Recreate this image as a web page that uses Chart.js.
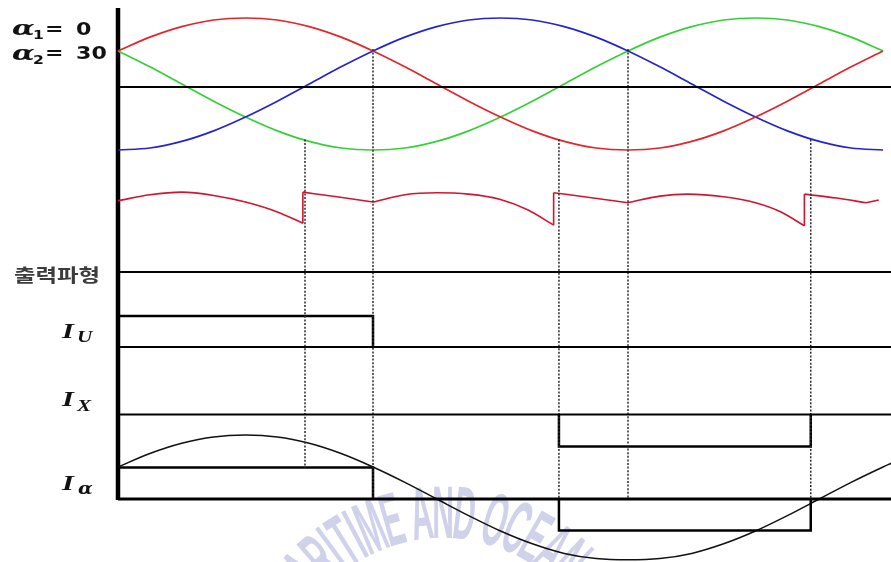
<!DOCTYPE html>
<html>
<head>
<meta charset="utf-8">
<title>α1 = 0, α2 = 30 파형</title>
<script src="https://cdn.jsdelivr.net/npm/chart.js@4.4.1/dist/chart.umd.min.js"></script>
<style>
  html, body { margin: 0; padding: 0; background: #fff; }
  #wrap { width: 891px; height: 562px; }
</style>
</head>
<body>
<div id="wrap"><canvas id="wave" width="891" height="562"></canvas></div>
<script>
// phase voltages, sampled every 15 deg (per unit of peak)
const phaseDeg = [0, 15, 30, 45, 60, 75, 90, 105, 120, 135, 150, 165, 180, 195, 210, 225, 240, 255, 270, 285, 300, 315, 330, 345, 360];
const phaseU = [0.5, 0.71, 0.87, 0.97, 1, 0.97, 0.87, 0.71, 0.5, 0.26, 0, -0.26, -0.5, -0.71, -0.87, -0.97, -1, -0.97, -0.87, -0.71, -0.5, -0.26, 0, 0.26, 0.5];
const phaseV = [-1, -0.97, -0.87, -0.71, -0.5, -0.26, 0, 0.26, 0.5, 0.71, 0.87, 0.97, 1, 0.97, 0.87, 0.71, 0.5, 0.26, 0, -0.26, -0.5, -0.71, -0.87, -0.97, -1];
const phaseW = [0.5, 0.26, 0, -0.26, -0.5, -0.71, -0.87, -0.97, -1, -0.97, -0.87, -0.71, -0.5, -0.26, 0, 0.26, 0.5, 0.71, 0.87, 0.97, 1, 0.97, 0.87, 0.71, 0.5];

// output voltage (출력파형); repeated angle = vertical jump
const outDeg = [0, 15, 30, 45, 60, 75, 87, 87, 103, 120, 135, 150, 165, 180, 193, 205, 205, 222, 240, 255, 268, 285, 300, 312, 323, 323, 338, 352, 358];
const outVal = [1.08, 1.17, 1.21, 1.16, 1.06, 0.91, 0.74, 1.21, 1.14, 1.06, 1.17, 1.2, 1.18, 1.1, 0.94, 0.71, 1.2, 1.13, 1.05, 1.15, 1.18, 1.14, 1.05, 0.91, 0.7, 1.18, 1.12, 1.05, 1.09];
const outCusps = [120, 240, 352];

// currents (per unit of Id)
const iUDeg = [0, 120, 120];
const iUVal = [1, 1, 0];
const iXDeg = [207.5, 207.5, 326, 326];
const iXVal = [0, -1, -1, 0];
const iaPosDeg = [0, 120, 120];
const iaPosVal = [1, 1, 0];
const iaNegDeg = [207.5, 207.5, 326, 326];
const iaNegVal = [0, -1, -1, 0];

// fundamental of I_a (black curve)
const iaSineDeg = [0, 15, 30, 45, 60, 75, 90, 105, 120, 135, 150, 165, 180, 195, 210, 225, 240, 255, 270, 285, 300, 315, 330, 345, 360, 364];
const iaSine = [0.5, 0.71, 0.87, 0.97, 1, 0.97, 0.87, 0.71, 0.5, 0.26, 0, -0.26, -0.5, -0.7, -0.85, -0.93, -0.95, -0.93, -0.85, -0.7, -0.5, -0.26, 0, 0.26, 0.5, 0.56];

// dotted guide lines: angle, top end (phase pu), bottom end (I_a pu)
const dotDeg = [88, 120, 207.5, 240, 326];
const dotTop = [-0.84, 0.53, -0.84, 0.53, -0.84];
const dotBottom = [1, 0, 0, 0, 0];

// lane layout on the (pixel-like) value axis, top = 0
const lanes = {
  phase: { zero: 87, mid: 84, amp: 66 },
  out: { base: 272, amp: 66 },
  iU: { base: 347, amp: 31 },
  iX: { base: 414.5, amp: 32 },
  ia: { base: 499, amp: 31.5, sine: 64 }
};
const pxPerDeg = 2.125;
const xMin = -118 / pxPerDeg;
const xMax = (891 - 118) / pxPerDeg;

const toPts = (xs, ys, base, amp) => xs.map((x, i) => ({ x: x, y: base - amp * ys[i] }));

function line(points, color, width, extra) {
  return Object.assign({
    data: points, borderColor: color, borderWidth: width,
    pointRadius: 0, fill: false, clip: false, tension: 0
  }, extra || {});
}

const smooth = { cubicInterpolationMode: 'monotone' };
const datasets = [];

// horizontal reference lines
[[lanes.phase.zero, 2.2], [lanes.out.base, 2.2], [lanes.iU.base, 2.2], [lanes.iX.base, 2.2], [lanes.ia.base, 3]]
  .forEach(([y, w]) => datasets.push(line([{ x: 0, y: y }, { x: xMax, y: y }], '#000', w)));

// dotted guides
dotDeg.forEach((d, i) => {
  datasets.push(line([
    { x: d, y: lanes.phase.mid - lanes.phase.amp * dotTop[i] },
    { x: d, y: lanes.ia.base - lanes.ia.amp * dotBottom[i] }
  ], '#2a2a2a', 1.5, { borderDash: [2, 1.6] }));
});

// three phases
datasets.push(line(toPts(phaseDeg, phaseU, lanes.phase.mid, lanes.phase.amp), '#e5232b', 1.7, smooth));
datasets.push(line(toPts(phaseDeg, phaseV, lanes.phase.mid, lanes.phase.amp), '#2424cc', 1.7, smooth));
datasets.push(line(toPts(phaseDeg, phaseW, lanes.phase.mid, lanes.phase.amp), '#35d035', 1.7, smooth));

// output waveform, split at jumps and cusps
(function () {
  const pts = toPts(outDeg, outVal, lanes.out.base, lanes.out.amp);
  let cur = [pts[0]];
  for (let i = 1; i < pts.length; i++) {
    if (outDeg[i] === outDeg[i - 1]) {
      datasets.push(line(cur, '#d3142e', 1.6, smooth));
      datasets.push(line([cur[cur.length - 1], pts[i]], '#d3142e', 1.6));
      cur = [pts[i]];
    } else {
      cur.push(pts[i]);
      if (outCusps.includes(outDeg[i])) {
        datasets.push(line(cur, '#d3142e', 1.6, smooth));
        cur = [pts[i]];
      }
    }
  }
  if (cur.length > 1) datasets.push(line(cur, '#d3142e', 1.6, smooth));
})();

// current blocks
datasets.push(line(toPts(iUDeg, iUVal, lanes.iU.base, lanes.iU.amp), '#000', 2.5));
datasets.push(line(toPts(iXDeg, iXVal, lanes.iX.base, lanes.iX.amp), '#000', 2.5));
datasets.push(line(toPts(iaPosDeg, iaPosVal, lanes.ia.base, lanes.ia.amp), '#000', 2.5));
datasets.push(line(toPts(iaNegDeg, iaNegVal, lanes.ia.base, lanes.ia.amp), '#000', 2.5));

// I_a fundamental
datasets.push(line(toPts(iaSineDeg, iaSine, lanes.ia.base, lanes.ia.sine), '#111', 1.5, smooth));

// vertical time axis
datasets.push(line([
  { x: 0, y: lanes.phase.mid - lanes.phase.amp * 1.15 },
  { x: 0, y: lanes.ia.base + 1 }
], '#000', 4.5));

// text helpers
function wide(ctx, text, x, y, font, sx) {
  ctx.save();
  ctx.font = font;
  ctx.translate(x, y);
  ctx.scale(sx, 1);
  ctx.fillText(text, 0, 0);
  ctx.restore();
}

function drawWatermark(ctx) {
  const text = 'KOREA MARITIME AND OCEAN UNIVERSITY';
  const cx = 443, cy = 700, rBase = 162, rMid = 190, sx = 0.4, gap = 0.5;
  ctx.save();
  ctx.fillStyle = '#cfd2ea';
  ctx.font = 'bold 75px "Liberation Sans", Arial, sans-serif';
  ctx.textAlign = 'center';
  const chars = [...text];
  const w = chars.map(ch => ctx.measureText(ch).width * sx + gap);
  const anchor = text.indexOf('AND') + 1;
  let before = w[anchor] / 2;
  for (let i = 0; i < anchor; i++) before += w[i];
  let a = -before / rMid;
  chars.forEach((ch, i) => {
    const half = w[i] / 2 / rMid;
    a += half;
    ctx.save();
    ctx.translate(cx + rBase * Math.sin(a), cy - rBase * Math.cos(a));
    ctx.rotate(a);
    ctx.scale(sx, 1);
    ctx.fillText(ch, 0, 0);
    ctx.restore();
    a += half;
  });
  ctx.restore();
}

function drawLabels(ctx) {
  ctx.save();
  ctx.fillStyle = '#111';
  ctx.textBaseline = 'alphabetic';
  const greek = 'italic bold 21px "DejaVu Serif", serif';
  const sans = 'bold 17px "DejaVu Sans", sans-serif';
  const subS = 'bold 13px "DejaVu Sans", sans-serif';
  // α1 = 0
  wide(ctx, 'α', 12, 35, greek, 1.4);
  wide(ctx, '1', 33, 38.5, subS, 1.2);
  wide(ctx, '=', 45, 35, sans, 1.3);
  wide(ctx, '0', 76, 35, sans, 1.3);
  // α2 = 30
  wide(ctx, 'α', 12, 60, greek, 1.4);
  wide(ctx, '2', 33, 63.5, subS, 1.2);
  wide(ctx, '=', 45, 59, sans, 1.3);
  wide(ctx, '30', 76, 59, sans, 1.3);
  // 출력파형
  ctx.fillStyle = '#3c3c3c';
  wide(ctx, '출력파형', 14, 282, 'bold 18px "Noto Sans CJK KR", sans-serif', 1.3);
  // currents
  ctx.fillStyle = '#111';
  const bi = 'italic bold 21px "Liberation Serif", serif';
  const bi2 = 'italic bold 17px "Liberation Serif", serif';
  wide(ctx, 'I', 62, 338, bi, 1.45);
  wide(ctx, 'U', 77, 342, bi2, 1.25);
  wide(ctx, 'I', 62, 406, bi, 1.45);
  wide(ctx, 'X', 77, 411, bi2, 1.25);
  wide(ctx, 'I', 62, 490, bi, 1.45);
  wide(ctx, 'α', 78, 494, 'italic bold 16px "DejaVu Serif", serif', 1.2);
  ctx.restore();
}

const annotate = {
  id: 'annotate',
  beforeDatasetsDraw(chart) { drawWatermark(chart.ctx); },
  afterDraw(chart) { drawLabels(chart.ctx); }
};

new Chart(document.getElementById('wave').getContext('2d'), {
  type: 'line',
  data: { datasets: datasets },
  options: {
    responsive: false,
    animation: false,
    events: [],
    layout: { padding: 0 },
    scales: {
      x: { type: 'linear', min: xMin, max: xMax, display: false },
      y: { type: 'linear', min: 0, max: 562, reverse: true, display: false }
    },
    plugins: { legend: { display: false }, tooltip: { enabled: false } }
  },
  plugins: [annotate]
});
</script>
</body>
</html>
